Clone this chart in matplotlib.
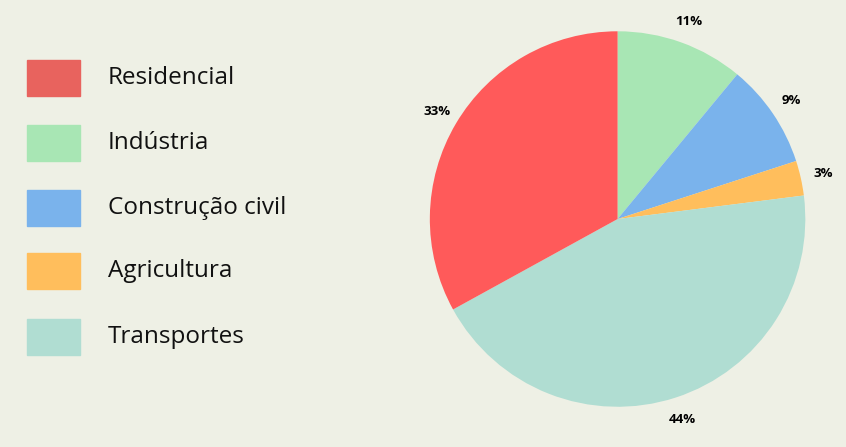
import matplotlib.pyplot as plt
from matplotlib.patches import Rectangle

categories = ["Indústria", "Construção civil", "Agricultura", "Transportes", "Residencial"]
values = [11, 9, 3, 44, 33]
pie_colors = ["#A8E6B4", "#7AB3EC", "#FFBE5C", "#B0DDD2", "#FF5A5A"]

legend_labels = ["Residencial", "Indústria", "Construção civil", "Agricultura", "Transportes"]
legend_colors = ["#E8635E", "#A8E6B4", "#7AB3EC", "#FFBE5C", "#B0DDD2"]

bg = "#EEF0E5"
fig = plt.figure(figsize=(8.46, 4.47), dpi=100, facecolor=bg)

ax = fig.add_axes([0.4525, -0.015, 0.555, 1.05])
ax.pie(values, colors=pie_colors, startangle=90, counterclock=False,
       autopct="%d%%", pctdistance=1.12,
       textprops={"fontsize": 9.5, "fontweight": "bold", "family": "Open Sans"})
ax.set_aspect("equal")

rows = [78, 143, 208, 271, 337]
for lab, col, y in zip(legend_labels, legend_colors, rows):
    fig.patches.append(Rectangle((27 / 846, 1 - (y + 18) / 447), 53 / 846, 36 / 447,
                                 transform=fig.transFigure, color=col))
    fig.text(108 / 846, 1 - y / 447, lab, fontsize=17.5, family="Open Sans",
             va="center", ha="left", color="#111111")

fig.savefig("out.png", dpi=100, facecolor=bg)
